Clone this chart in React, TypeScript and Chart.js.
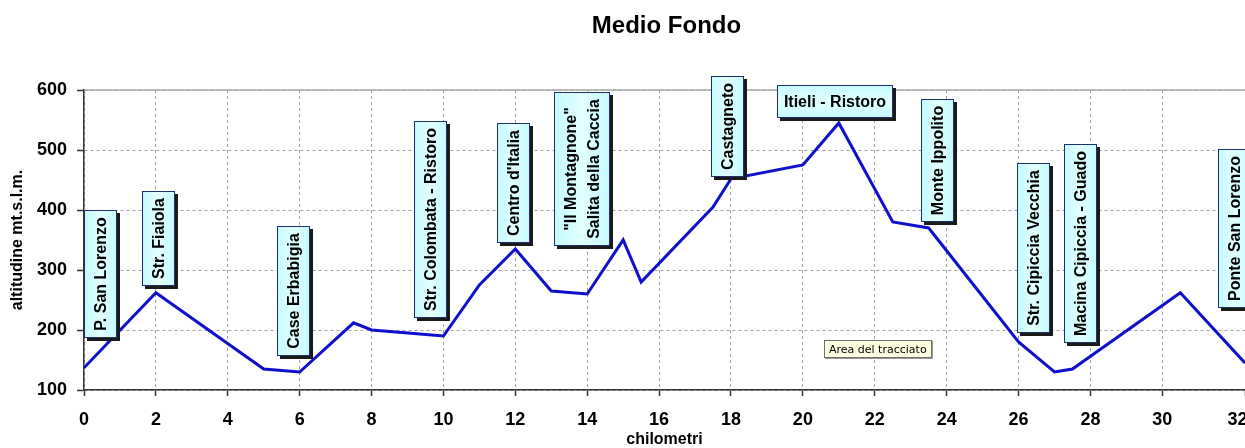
import React, { useEffect, useRef } from 'react';
import { Chart, registerables } from 'chart.js';

Chart.register(...registerables);

// ---- data ----
const chartTitle = 'Medio Fondo';
const xAxisTitle = 'chilometri';
const yAxisTitle = 'altitudine mt.s.l.m.';

const kmValues = [0, 2, 5, 6, 7.5, 8, 10, 11, 12, 13, 14, 15, 15.5, 17.5, 18, 20, 21, 22.5, 23.5, 26, 27, 27.5, 30.5, 32.3];
const altitudeValues = [137, 262, 135, 130, 212, 200, 190, 275, 335, 265, 260, 350, 280, 405, 452, 475, 545, 380, 370, 180, 130, 135, 262, 145];

const xMin = 0;
const xMax = 32.3;
const xStep = 2;
const yMin = 100;
const yMax = 600;
const yStep = 100;

// landmark labels (anchored in data units: km of box centre, altitude of box bottom)
const landmarkNames: string[][] = [
  ['P. San Lorenzo'],
  ['Str. Fiaiola'],
  ['Case Erbabigia'],
  ['Str. Colombata - Ristoro'],
  ["Centro d'Italia"],
  ['"Il Montagnone"', 'Salita della Caccia'],
  ['Castagneto'],
  ['Itieli - Ristoro'],
  ['Monte Ippolito'],
  ['Str. Cipiccia Vecchia'],
  ['Macina Cipiccia - Guado'],
  ['Ponte San Lorenzo'],
];
const landmarkKm = [0.46, 2.06, 5.84, 9.63, 11.95, 13.86, 17.89, 20.9, 23.75, 26.42, 27.71, 32.0];
const landmarkAlt = [187, 273, 157, 220, 345, 340, 455, 553, 380, 195, 178, 237];
const landmarkVertical = [true, true, true, true, true, true, true, false, true, true, true, true];

const plotAreaNote = 'Area del tracciato';
const plotAreaNoteKm = 20.59;
const plotAreaNoteAlt = 183;

const FONT = '"Liberation Sans", Arial, Helvetica, sans-serif';

const overlayPlugin = {
  id: 'overlay',
  afterDatasetsDraw(chart: any) {
    const { ctx, chartArea, scales } = chart;
    const xs = scales.x;
    const ys = scales.y;
    ctx.save();
    // plot area top border
    ctx.setLineDash([]);
    ctx.strokeStyle = '#A8A8A8';
    ctx.lineWidth = 1.5;
    ctx.beginPath();
    ctx.moveTo(chartArea.left, chartArea.top);
    ctx.lineTo(chartArea.right, chartArea.top);
    ctx.stroke();

    // landmark boxes
    ctx.font = `bold 16px ${FONT}`;
    landmarkNames.forEach((lines, i) => {
      const cx = xs.getPixelForValue(landmarkKm[i]);
      const by = ys.getPixelForValue(landmarkAlt[i]);
      const textW = Math.max(...lines.map((l) => ctx.measureText(l).width));
      const longSide = Math.round(textW + 14);
      const shortSide = lines.length * 23 + 10;
      const vertical = landmarkVertical[i];
      const w = vertical ? shortSide : longSide;
      const h = vertical ? longSide : shortSide;
      const x0 = Math.round(cx - w / 2);
      const y0 = Math.round(by - h);
      ctx.fillStyle = '#1A1A1A';
      ctx.fillRect(x0 + 3, y0 + 3, w, h);
      const g = vertical
        ? ctx.createLinearGradient(x0, 0, x0 + w, 0)
        : ctx.createLinearGradient(0, y0, 0, y0 + h);
      g.addColorStop(0, '#C4FAFF');
      g.addColorStop(0.5, '#E2FFFF');
      g.addColorStop(1, '#C4FAFF');
      ctx.fillStyle = g;
      ctx.fillRect(x0, y0, w, h);
      ctx.strokeStyle = '#22306A';
      ctx.lineWidth = 1;
      ctx.strokeRect(x0 + 0.5, y0 + 0.5, w - 1, h - 1);
      ctx.fillStyle = '#000';
      ctx.textAlign = 'center';
      ctx.textBaseline = 'middle';
      ctx.save();
      ctx.translate(x0 + w / 2, y0 + h / 2);
      if (vertical) ctx.rotate(-Math.PI / 2);
      lines.forEach((l, j) => {
        ctx.fillText(l, 0, (j - (lines.length - 1) / 2) * 23 + 1);
      });
      ctx.restore();
    });

    // plot area note (tooltip-like)
    ctx.font = `11px "DejaVu Sans", Tahoma, sans-serif`;
    const nx = Math.round(xs.getPixelForValue(plotAreaNoteKm));
    const ny = Math.round(ys.getPixelForValue(plotAreaNoteAlt));
    const nw = Math.round(ctx.measureText(plotAreaNote).width + 10);
    const nh = 18;
    ctx.fillStyle = '#9A9A9A';
    ctx.fillRect(nx + 1, ny + 1, nw, nh);
    ctx.fillStyle = '#FFFFE1';
    ctx.fillRect(nx, ny, nw, nh);
    ctx.strokeStyle = '#6E6E6E';
    ctx.lineWidth = 1;
    ctx.strokeRect(nx + 0.5, ny + 0.5, nw - 1, nh - 1);
    ctx.fillStyle = '#000';
    ctx.textAlign = 'left';
    ctx.textBaseline = 'middle';
    ctx.fillText(plotAreaNote, nx + 5, ny + nh / 2 + 1);

    ctx.restore();
  },
  afterDraw(chart: any) {
    const { ctx, chartArea } = chart;
    ctx.save();
    ctx.font = `bold 24px ${FONT}`;
    ctx.fillStyle = '#000';
    ctx.textAlign = 'center';
    ctx.textBaseline = 'middle';
    ctx.fillText(chartTitle, (chartArea.left + chartArea.right) / 2 + 2, 26);
    ctx.restore();
  },
};

export default function App() {
  const canvasRef = useRef<HTMLCanvasElement | null>(null);

  useEffect(() => {
    document.body.style.margin = '0';
    const canvas = canvasRef.current;
    if (!canvas) return;
    const tickFont = { family: FONT, size: 18, weight: 'bold' as const };
    const gridCommon = {
      color: '#A0A0A0',
      lineWidth: 1,
      tickColor: '#333333',
      tickBorderDash: [],
      tickWidth: 1.5,
      tickLength: 7,
    };
    const chart = new Chart(canvas, {
      type: 'line',
      data: {
        datasets: [
          {
            data: kmValues.map((x, i) => ({ x, y: altitudeValues[i] })),
            borderColor: '#0F0FCC',
            borderWidth: 3,
            pointRadius: 0,
            tension: 0,
            fill: false,
          },
        ],
      },
      options: {
        animation: false,
        responsive: false,
        maintainAspectRatio: false,
        layout: { padding: { top: 90, left: 0, right: 0, bottom: 0 } },
        plugins: {
          legend: { display: false },
          tooltip: { enabled: false },
          title: { display: false },
        },
        scales: {
          x: {
            type: 'linear',
            min: xMin,
            max: xMax,
            ticks: {
              stepSize: xStep,
              autoSkip: false,
              maxRotation: 0,
              font: tickFont,
              color: '#000',
              padding: 13,
            },
            grid: { ...gridCommon, tickLength: 6 },
            border: { display: true, color: '#333333', width: 1.5, dash: [3, 3] },
            title: {
              display: true,
              text: xAxisTitle,
              color: '#000',
              font: { family: FONT, size: 16, weight: 'bold', lineHeight: 1 },
              padding: { top: 0, bottom: 0 },
            },
            afterFit: (s: any) => {
              s.height = 58;
              s.paddingLeft = 0;
              s.paddingRight = 0;
            },
          },
          y: {
            type: 'linear',
            min: yMin,
            max: yMax,
            ticks: {
              stepSize: yStep,
              font: tickFont,
              color: '#000',
              padding: 10,
            },
            grid: gridCommon,
            border: { display: true, color: '#333333', width: 1.5, dash: [3, 3] },
            title: {
              display: true,
              text: yAxisTitle,
              color: '#000',
              font: { family: FONT, size: 16, weight: 'bold', lineHeight: 1 },
              padding: { top: 10, bottom: 0 },
            },
            afterFit: (s: any) => {
              s.width = 84;
            },
          },
        },
      },
      plugins: [overlayPlugin],
    } as any);
    return () => chart.destroy();
  }, []);

  return (
    <div style={{ width: 1245, height: 448 }}>
      <canvas ref={canvasRef} width={1245} height={448} style={{ display: 'block' }} />
    </div>
  );
}
